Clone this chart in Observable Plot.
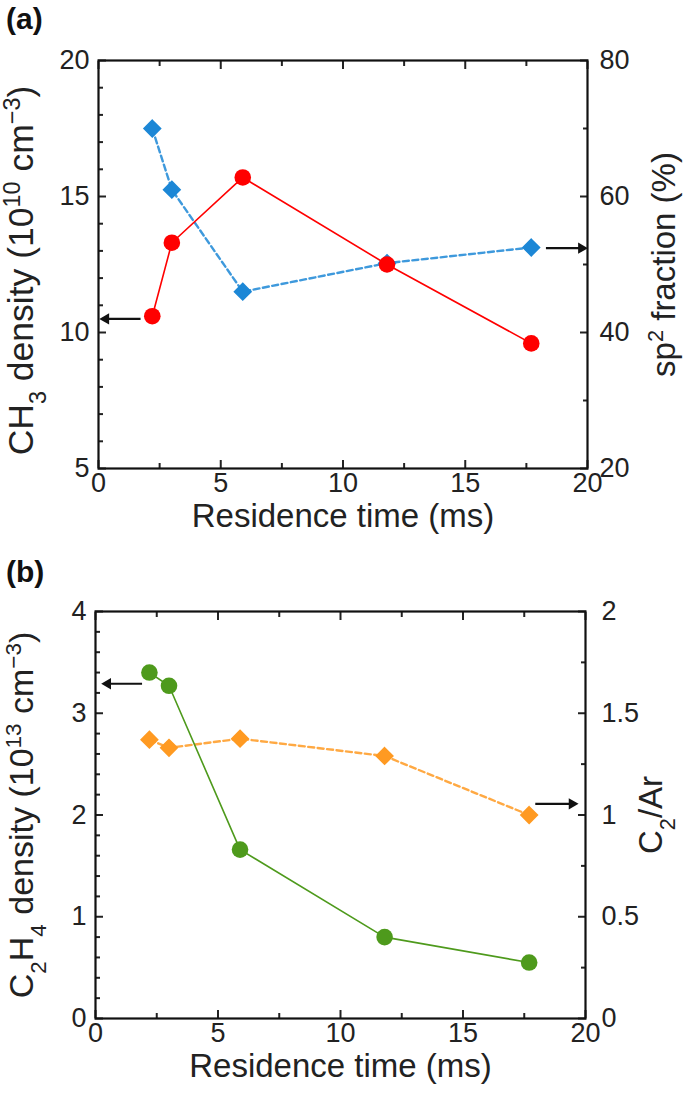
<!DOCTYPE html>
<html>
<head>
<meta charset="utf-8">
<script src="https://cdn.jsdelivr.net/npm/d3@7"></script>
<script src="https://cdn.jsdelivr.net/npm/@observablehq/plot@0.6"></script>
<style>
  html, body { margin: 0; padding: 0; background: #fff; }
  #wrap { position: relative; width: 685px; height: 1096px; background: #fff; overflow: hidden; }
  .plabel { position: absolute; font-family: 'Liberation Sans', Arial, sans-serif; font-weight: bold; font-size: 30px; color: #111; }
  .panel { position: absolute; left: 0; }
</style>
</head>
<body>
<div id="wrap">
  <div id="pa" class="panel" style="top:0px"></div>
  <div id="pb" class="panel" style="top:550px"></div>
  <div class="plabel" style="left:6px; top:2px">(a)</div>
  <div class="plabel" style="left:6px; top:555px">(b)</div>
</div>
<script>
// ---------------- data ----------------
const residenceTime = [2.2, 3.0, 5.9, 11.8, 17.7];          // ms
const ch3Density    = [10.6, 13.3, 15.7, 12.5, 9.6];        // 10^10 cm^-3 (left axis, a)
const sp2Fraction   = [70.0, 61.0, 46.0, 50.2, 52.5];       // % (right axis, a)
const c2h4Density   = [3.40, 3.27, 1.66, 0.80, 0.55];       // 10^13 cm^-3 (left axis, b)
const c2ArRatio     = [1.37, 1.33, 1.375, 1.29, 1.00];      // C2/Ar (right axis, b)

// axis ticks
const xMajorTicks = [0, 5, 10, 15, 20];
const xMinorTicks = [2.5, 7.5, 12.5, 17.5];
const aLeftMajor  = [5, 10, 15, 20];
const aLeftMinor  = [6, 7, 8, 9, 11, 12, 13, 14, 16, 17, 18, 19];
const aRightMajor = [20, 40, 60, 80];
const aRightMinor = [30, 50, 70];
const bLeftMajor  = [0, 1, 2, 3, 4];
const bLeftMinor  = [0.2, 0.4, 0.6, 0.8, 1.2, 1.4, 1.6, 1.8, 2.2, 2.4, 2.6, 2.8, 3.2, 3.4, 3.6, 3.8];
const bRightMajor = [0, 0.5, 1, 1.5, 2];
const bRightMinor = [0.25, 0.75, 1.25, 1.75];

// annotation arrows (which axis a series belongs to), in data units
const aArrows = [
  {x1: 1.72, x2: 0.30, y: 10.5, axis: "left", dir: -90},
  {x1: 18.3, x2: 19.75, y: 52.4, axis: "right", dir: 90}
];
const bArrows = [
  {x1: 1.9, x2: 0.5, y: 3.29, axis: "left", dir: -90},
  {x1: 17.95, x2: 19.45, y: 1.055, axis: "right", dir: 90}
];

// ---------------- helpers ----------------
const TICKFONT = "'Liberation Sans', Arial, sans-serif";
const TITLEFONT = "'Liberation Sans', Arial, sans-serif";

function panel(cfg) {
  const [l0, l1] = cfg.leftDomain, [r0, r1] = cfg.rightDomain;
  const toLeft = v => l0 + (v - r0) * (l1 - l0) / (r1 - r0);
  const fromLeft = v => +(r0 + (v - l0) * (r1 - r0) / (l1 - l0)).toFixed(4);
  const leftData = residenceTime.map((t, i) => ({t, v: cfg.left[i]}));
  const rightData = residenceTime.map((t, i) => ({t, v: toLeft(cfg.right[i])}));
  const arrows = cfg.arrows.map(a => ({...a, yy: a.axis === "right" ? toLeft(a.y) : a.y}));
  const tickCommon = {fontSize: 27, fontFamily: TICKFONT, fill: "#222"};
  const plot = Plot.plot({
    width: 685,
    height: cfg.height,
    marginLeft: cfg.ml, marginRight: cfg.mr, marginTop: cfg.mt, marginBottom: cfg.mb,
    style: {fontFamily: TICKFONT, background: "#fff", color: "#222", overflow: "visible"},
    x: {domain: [0, 20], label: null},
    y: {domain: cfg.leftDomain, label: null},
    marks: [
      // inward tick marks (bottom / top)
      Plot.axisX(xMajorTicks, {anchor: "bottom", tickSize: -8, fill: "none", strokeWidth: 2, label: null}),
      Plot.axisX(xMinorTicks, {anchor: "bottom", tickSize: -5, fill: "none", strokeWidth: 2, label: null}),
      Plot.axisX(xMajorTicks, {anchor: "top", tickSize: -8, fill: "none", strokeWidth: 2, label: null}),
      Plot.axisX(xMinorTicks, {anchor: "top", tickSize: -5, fill: "none", strokeWidth: 2, label: null}),
      // left ticks
      Plot.axisY(cfg.leftMajor, {anchor: "left", tickSize: -8, fill: "none", strokeWidth: 2, label: null}),
      Plot.axisY(cfg.leftMinor, {anchor: "left", tickSize: -5, fill: "none", strokeWidth: 2, label: null}),
      // right ticks (right scale)
      Plot.axisY(cfg.rightMajor.map(toLeft), {anchor: "right", tickSize: -8, fill: "none", strokeWidth: 2, label: null}),
      Plot.axisY(cfg.rightMinor.map(toLeft), {anchor: "right", tickSize: -5, fill: "none", strokeWidth: 2, label: null}),
      // tick labels
      Plot.axisX(xMajorTicks, {anchor: "bottom", tickSize: 0, tickPadding: 4, label: null, tickFormat: d => String(d), ...tickCommon}),
      Plot.axisY(cfg.leftMajor, {anchor: "left", tickSize: 0, tickPadding: 9, label: null, tickFormat: d => String(d), ...tickCommon}),
      Plot.axisY(cfg.rightMajor.map(toLeft), {anchor: "right", tickSize: 0, tickPadding: cfg.rightPad, label: null,
        tickFormat: d => String(fromLeft(d)), ...tickCommon}),
      Plot.frame({stroke: "#111", strokeWidth: 2.2}),
      // right-axis series (dashed, diamonds)
      Plot.line(rightData, {x: "t", y: "v", stroke: cfg.rightColor, strokeWidth: 2.4, strokeDasharray: "6,3.5", strokeOpacity: 0.85}),
      Plot.dot(rightData, {x: "t", y: "v", symbol: "diamond2", r: 7.5, fill: cfg.rightColor, stroke: cfg.rightColor, strokeWidth: 1.5}),
      // left-axis series (solid, circles)
      Plot.line(leftData, {x: "t", y: "v", stroke: cfg.leftColor, strokeWidth: 1.6}),
      Plot.dot(leftData, {x: "t", y: "v", r: 8.3, fill: cfg.leftColor}),
      // arrows: shaft + filled head
      Plot.link(arrows, {x1: "x1", x2: "x2", y1: "yy", y2: "yy", stroke: "#111", strokeWidth: 2.2}),
      Plot.dot(arrows, {x: "x2", y: "yy", symbol: "triangle", r: 4.2, fill: "#111", rotate: "dir"}),
      // axis titles (placeholders replaced with rich text below)
      Plot.text(["LEFTTITLE"], {frameAnchor: "left", dx: -cfg.leftTitleDx, dy: cfg.leftTitleDy, rotate: -90, textAnchor: "middle", fontSize: cfg.leftTitleSize, fontFamily: TITLEFONT, fill: "#222"}),
      Plot.text(["RIGHTTITLE"], {frameAnchor: "right", dx: cfg.rightTitleDx, dy: cfg.rightTitleDy, rotate: -90, textAnchor: "middle", fontSize: 33, fontFamily: TITLEFONT, fill: "#222"}),
      Plot.text(["Residence time (ms)"], {frameAnchor: "bottom", dy: cfg.xTitleDy, textAnchor: "middle", fontSize: 33, fontFamily: TITLEFONT, fill: "#222"})
    ]
  });
  plot.querySelectorAll("text").forEach(t => {
    if (t.textContent === "LEFTTITLE") t.innerHTML = cfg.leftTitle;
    if (t.textContent === "RIGHTTITLE") t.innerHTML = cfg.rightTitle;
  });
  return plot;
}

const sub = s => `<tspan baseline-shift="sub" font-size="0.66em">${s}</tspan>`;
const sup = s => `<tspan baseline-shift="super" font-size="0.66em">${s}</tspan>`;

document.getElementById("pa").append(panel({
  height: 545, ml: 98, mr: 98, mt: 60, mb: 77, rightPad: 12,
  leftDomain: [5, 20], rightDomain: [20, 80],
  left: ch3Density, right: sp2Fraction,
  leftColor: "#ff0000", rightColor: "#1c87d6",
  leftMajor: aLeftMajor, leftMinor: aLeftMinor, rightMajor: aRightMajor, rightMinor: aRightMinor,
  arrows: aArrows,
  leftTitle: `CH${sub("3")} density (10${sup("10")} cm${sup("−3")})`,
  rightTitle: `sp${sup("2")} fraction (%)`,
  leftTitleSize: 35.5,
  leftTitleDx: 77, leftTitleDy: 6, rightTitleDx: 77, rightTitleDy: 0, xTitleDy: 58
}));

document.getElementById("pb").append(panel({
  height: 546, ml: 95, mr: 100, mt: 61, mb: 78, rightPad: 16,
  leftDomain: [0, 4], rightDomain: [0, 2],
  left: c2h4Density, right: c2ArRatio,
  leftColor: "#4e9a1c", rightColor: "#ff9a22",
  leftMajor: bLeftMajor, leftMinor: bLeftMinor, rightMajor: bRightMajor, rightMinor: bRightMinor,
  arrows: bArrows,
  leftTitle: `C${sub("2")}H${sub("4")} density (10${sup("13")} cm${sup("−3")})`,
  rightTitle: `C${sub("2")}/Ar`,
  leftTitleSize: 34,
  leftTitleDx: 73, leftTitleDy: 0, rightTitleDx: 66, rightTitleDy: 0, xTitleDy: 58
}));
</script>
</body>
</html>
